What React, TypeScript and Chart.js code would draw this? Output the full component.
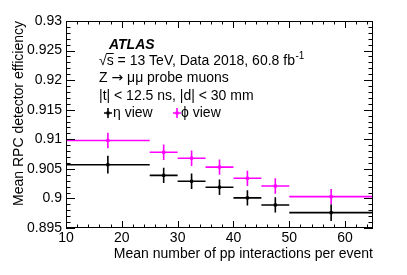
import React, { useEffect, useRef } from 'react';
import { Chart, registerables } from 'chart.js';

Chart.register(...registerables);

// ---- data ----
const binLow = [10, 25, 30, 35, 40, 45, 50];
const binHigh = [25, 30, 35, 40, 45, 50, 65];
const binMean = [17.5, 27.5, 32.5, 37.5, 42.5, 47.5, 57.5];
const etaEff = [0.9057, 0.9039, 0.9029, 0.9019, 0.9001, 0.8989, 0.8976];
const etaErr = [0.0015, 0.0013, 0.0013, 0.0013, 0.0013, 0.0013, 0.0014];
const phiEff = [0.9098, 0.9078, 0.9068, 0.9053, 0.9034, 0.9021, 0.9003];
const phiErr = [0.0013, 0.0013, 0.0013, 0.0013, 0.0013, 0.0013, 0.0013];

const xTicks = [10, 20, 30, 40, 50, 60];
const yTicks = [0.895, 0.9, 0.905, 0.91, 0.915, 0.92, 0.925, 0.93];
const xMinorStep = 2;
const yMinorStep = 0.001;

const xTitle = 'Mean number of pp interactions per event';
const yTitle = 'Mean RPC detector efficiency';
const etaLabel = 'η view';
const phiLabel = 'ϕ view';
const ETA_COLOR = '#000000';
const PHI_COLOR = '#ff00ff';

const FAMILY = '"Liberation Sans", Arial, Helvetica, sans-serif';

const errorBarPlugin = {
  id: 'errorBars',
  beforeDatasetsDraw(chart: any) {
    const { ctx, scales } = chart;
    const xs = scales.x;
    const ys = scales.y;
    const series = [
      { eff: etaEff, err: etaErr, color: ETA_COLOR },
      { eff: phiEff, err: phiErr, color: PHI_COLOR },
    ];
    ctx.save();
    ctx.lineWidth = 1.6;
    for (const s of series) {
      ctx.strokeStyle = s.color;
      for (let i = 0; i < binMean.length; i++) {
        const y = ys.getPixelForValue(s.eff[i]);
        const x = xs.getPixelForValue(binMean[i]);
        ctx.beginPath();
        ctx.moveTo(xs.getPixelForValue(binLow[i]), y);
        ctx.lineTo(xs.getPixelForValue(binHigh[i]), y);
        ctx.moveTo(x, ys.getPixelForValue(s.eff[i] - s.err[i]));
        ctx.lineTo(x, ys.getPixelForValue(s.eff[i] + s.err[i]));
        ctx.stroke();
      }
    }
    ctx.restore();
  },
};

const frameTicksPlugin = {
  id: 'frameTicks',
  afterDraw(chart: any) {
    const { ctx, chartArea, scales } = chart;
    const { left, right, top, bottom } = chartArea;
    const xs = scales.x;
    const ys = scales.y;
    ctx.save();
    ctx.strokeStyle = '#000';
    ctx.lineWidth = 1;
    ctx.strokeRect(Math.round(left) + 0.5, Math.round(top) + 0.5, Math.round(right - left) - 1, Math.round(bottom - top) - 1);
    ctx.beginPath();
    const xMajor = 7, xMinor = 3.5, yMajor = 9, yMinor = 4.5;
    for (let v = xs.min; v <= xs.max + 1e-9; v += xMinorStep) {
      const isMajor = xTicks.some((t) => Math.abs(t - v) < 1e-6);
      const len = isMajor ? xMajor : xMinor;
      const px = Math.round(xs.getPixelForValue(v)) + 0.5;
      ctx.moveTo(px, bottom);
      ctx.lineTo(px, bottom - len);
      ctx.moveTo(px, top);
      ctx.lineTo(px, top + len);
    }
    const n = Math.round((ys.max - ys.min) / yMinorStep);
    for (let k = 0; k <= n; k++) {
      const v = ys.min + k * yMinorStep;
      const isMajor = yTicks.some((t) => Math.abs(t - v) < 1e-7);
      const len = isMajor ? yMajor : yMinor;
      const py = Math.round(ys.getPixelForValue(v)) + 0.5;
      ctx.moveTo(left, py);
      ctx.lineTo(left + len, py);
      ctx.moveTo(right, py);
      ctx.lineTo(right - len, py);
    }
    ctx.stroke();
    ctx.restore();
  },
};

function drawLegendMarker(ctx: CanvasRenderingContext2D, x: number, y: number, color: string) {
  ctx.save();
  ctx.strokeStyle = color;
  ctx.fillStyle = color;
  ctx.lineWidth = 1.6;
  ctx.beginPath();
  ctx.moveTo(x - 4, y);
  ctx.lineTo(x + 4, y);
  ctx.moveTo(x, y - 5);
  ctx.lineTo(x, y + 5);
  ctx.stroke();
  ctx.fillRect(x - 1.5, y - 1.5, 3, 3);
  ctx.restore();
}

const textPlugin = {
  id: 'atlasText',
  afterDraw(chart: any) {
    const { ctx, chartArea } = chart;
    const { left, top } = chartArea;
    ctx.save();
    ctx.fillStyle = '#000';
    ctx.textBaseline = 'middle';
    ctx.textAlign = 'left';

    ctx.font = `italic bold 14px ${FAMILY}`;
    ctx.fillText('ATLAS', left + 43, top + 24);

    ctx.font = `14px ${FAMILY}`;
    const x0 = left + 33;
    const y1 = top + 40;
    const rad = '√';
    const rest = 's = 13 TeV, Data 2018, 60.8 fb';
    ctx.fillText(rad, x0, y1);
    const wr = ctx.measureText(rad).width;
    ctx.fillText(rest, x0 + wr, y1);
    const ws = ctx.measureText('s').width;
    ctx.beginPath();
    ctx.lineWidth = 1;
    ctx.strokeStyle = '#000';
    ctx.moveTo(x0 + wr - 0.5, y1 - 7.5);
    ctx.lineTo(x0 + wr + ws, y1 - 7.5);
    ctx.stroke();
    const wrest = ctx.measureText(rest).width;
    ctx.font = `10px ${FAMILY}`;
    ctx.fillText('-1', x0 + wr + wrest + 0.5, y1 - 5);

    ctx.font = `14px ${FAMILY}`;
    const y2 = top + 57;
    ctx.fillText('Z', x0, y2);
    const wz = ctx.measureText('Z ').width;
    ctx.font = `14px "DejaVu Sans", ${FAMILY}`;
    ctx.fillText('→', x0 + wz, y2);
    const wa = ctx.measureText('→').width;
    ctx.font = `14px ${FAMILY}`;
    ctx.fillText(' μμ probe muons', x0 + wz + wa, y2);
    ctx.fillText('|t| < 12.5 ns, |d| < 30 mm', x0, top + 75);

    const ly = top + 92;
    drawLegendMarker(ctx, left + 42, ly, ETA_COLOR);
    ctx.fillStyle = '#000';
    ctx.fillText(etaLabel, left + 47, ly);
    drawLegendMarker(ctx, left + 111, ly, PHI_COLOR);
    ctx.fillStyle = '#000';
    ctx.fillText(phiLabel, left + 115, ly);
    ctx.restore();
  },
};

export default function App() {
  const canvasRef = useRef<HTMLCanvasElement | null>(null);

  useEffect(() => {
    document.body.style.margin = '0';
    const canvas = canvasRef.current;
    if (!canvas) return;
    const tickFont = { family: FAMILY, size: 14 };
    const chart = new Chart(canvas, {
      type: 'scatter',
      data: {
        datasets: [
          {
            label: etaLabel,
            data: binMean.map((x, i) => ({ x, y: etaEff[i] })),
            pointStyle: 'rect',
            pointRadius: 2.2,
            backgroundColor: ETA_COLOR,
            borderColor: ETA_COLOR,
            borderWidth: 0,
          },
          {
            label: phiLabel,
            data: binMean.map((x, i) => ({ x, y: phiEff[i] })),
            pointStyle: 'rect',
            pointRadius: 2.2,
            backgroundColor: PHI_COLOR,
            borderColor: PHI_COLOR,
            borderWidth: 0,
          },
        ],
      },
      options: {
        animation: false,
        responsive: true,
        maintainAspectRatio: false,
        layout: { padding: { top: 21, right: 34, bottom: 0, left: 0 } },
        plugins: { legend: { display: false }, tooltip: { enabled: false } },
        events: [],
        scales: {
          x: {
            type: 'linear',
            min: 10,
            max: 65,
            afterBuildTicks: (s: any) => {
              s.ticks = xTicks.map((v) => ({ value: v }));
            },
            afterFit: (s: any) => {
              s.height = 47;
            },
            grid: { display: false, drawTicks: false },
            border: { display: false },
            ticks: {
              color: '#000',
              font: tickFont,
              padding: 2,
              maxRotation: 0,
              autoSkip: false,
              callback: (v: any) => String(v),
            },
            title: {
              display: true,
              text: xTitle,
              align: 'end',
              color: '#000',
              font: tickFont,
              padding: { top: 0, bottom: 12 },
            },
          },
          y: {
            type: 'linear',
            min: 0.895,
            max: 0.93,
            afterBuildTicks: (s: any) => {
              s.ticks = yTicks.map((v) => ({ value: v }));
            },
            afterFit: (s: any) => {
              s.width = 66;
            },
            grid: { display: false, drawTicks: false },
            border: { display: false },
            ticks: {
              color: '#000',
              font: tickFont,
              padding: 4,
              autoSkip: false,
              callback: (v: any) => String(Number(Number(v).toFixed(3))),
            },
            title: {
              display: true,
              text: yTitle,
              align: 'end',
              color: '#000',
              font: tickFont,
              padding: { top: 11, bottom: 0 },
            },
          },
        },
      },
      plugins: [errorBarPlugin, frameTicksPlugin, textPlugin],
    } as any);
    return () => chart.destroy();
  }, []);

  return (
    <div style={{ position: 'relative', width: 407, height: 275 }}>
      <canvas ref={canvasRef} />
    </div>
  );
}
